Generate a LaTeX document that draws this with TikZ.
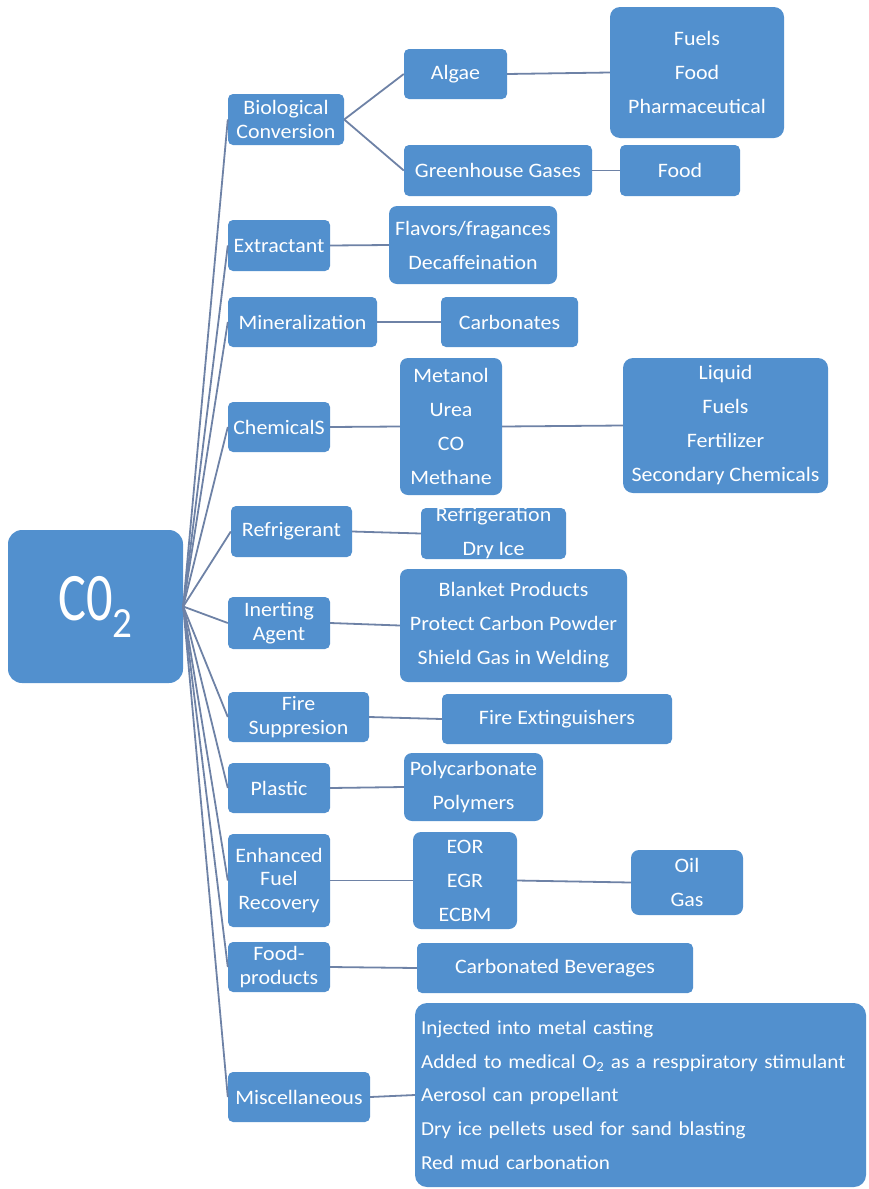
\documentclass[tikz,border=0pt]{standalone}
\usepackage{fontspec}
\setmainfont{Carlito}[FakeStretch=1.07]
\usepackage{graphicx}
\hyphenpenalty=10000
\exhyphenpenalty=10000
\definecolor{boxblue}{RGB}{82,144,206}
\definecolor{linkgray}{RGB}{110,130,166}
\tikzset{
  box/.style={rectangle, rounded corners=5pt, fill=boxblue, text=white,
    inner sep=0pt, align=center, font=\fontsize{20.5}{23.5}\selectfont},
  listbox/.style={box, rounded corners=8pt, font=\fontsize{20.5}{34}\selectfont},
  txt/.style={text=white, inner sep=0pt, align=center, font=\fontsize{20.5}{34}\selectfont},
  wh/.style 2 args={minimum width=#1pt, minimum height=#2pt},
  link/.style={draw=linkgray, line width=1.8pt},
}
\begin{document}
\begin{tikzpicture}[x=1pt,y=-1pt]
\useasboundingbox (0,0) rectangle (868,1189);

% root
\node[box, rounded corners=14pt, wh={175}{153}] (co2) at (95.5,606.5)
  {\scalebox{0.72}[1]{\fontsize{68}{68}\selectfont C0}\raisebox{-17pt}{\scalebox{0.85}[1]{\fontsize{43}{43}\selectfont 2}}};

% first level
\node[box, wh={116}{51}] (bio)     at (286,119.5) {Biological\\Conversion};
\node[box, wh={102}{51}] (extr)    at (279,245.5) {Extractant};
\node[box, wh={149}{50}] (mineral) at (302.5,322) {Mineralization};
\node[box, wh={102}{50}] (chem)    at (279,427)   {ChemicalS};
\node[box, wh={121}{51}] (refrig)  at (291.5,531.5) {Refrigerant};
\node[box, wh={102}{52}] (inert)   at (279,623)   {Inerting\\Agent};
\node[box, wh={141}{50}] (fire)    at (298.5,717) {Fire\\Suppresion};
\node[box, wh={102}{50}] (plastic) at (279,788)   {Plastic};
\node[box, wh={102}{93}] (efr)     at (279,880.5) {Enhanced\\Fuel\\Recovery};
\node[box, wh={102}{50}] (foodp)   at (279,967)   {Food-\\products};
\node[box, wh={142}{50}] (misc)    at (299,1097)  {Miscellaneous};

% second level
\node[box, wh={103}{50}] (algae)   at (455.5,74)  {Algae};
\node[box, wh={188}{51}] (ghg)     at (498,170.5) {Greenhouse Gases};
\node[listbox, wh={168}{78}] (flav) at (473,245)  {Flavors/fragances\\Decaffeination};
\node[box, wh={137}{50}] (carb)    at (509.5,322) {Carbonates};
\node[listbox, wh={102}{137}] (metanol) at (451,426.5) {Metanol\\Urea\\CO\\Methane};
\node[box, wh={145}{51}] (refrigb) at (493.5,533.5) {};
\node[txt] at (refrigb) {Refrigeration\\Dry Ice};
\node[listbox, wh={227}{113}] (blanket) at (513.5,625.5)
  {Blanket Products\\Protect Carbon Powder\\Shield Gas in Welding};
\node[box, wh={230}{50}] (fireext) at (557,719)   {Fire Extinguishers};
\node[listbox, wh={139}{68}] (poly) at (473.5,787) {Polycarbonate\\Polymers};
\node[listbox, wh={104}{97}] (eor)  at (465,880.5) {EOR\\EGR\\ECBM};
\node[box, wh={276}{50}] (carbbev) at (555,968)   {Carbonated Beverages};
\node[listbox, rounded corners=12pt, wh={451}{184}, align=left,
      text width=439pt, inner xsep=6pt,
      font=\fontsize{19.8}{33.7}\selectfont] (misclist) at (640.5,1095)
  {Injected into metal casting\\
   Added to medical O\textsubscript{2} as a resppiratory stimulant\\
   Aerosol can propellant\\
   Dry ice pellets used for sand blasting\\
   Red mud carbonation};

% third level
\node[listbox, rounded corners=10pt, wh={174}{131}] (fuels) at (697,72.5)
  {Fuels\\Food\\Pharmaceutical};
\node[box, wh={120}{51}] (food)    at (680,170.5) {Food};
\node[listbox, rounded corners=10pt, wh={205}{135}] (liquid) at (725.5,425.5)
  {Liquid\\Fuels\\Fertilizer\\Secondary Chemicals};
\node[listbox, wh={112}{65}] (oil) at (687,882.5) {Oil\\Gas};

% fan from the root
\foreach \n in {bio,extr,mineral,chem,refrig,inert,fire,plastic,efr,foodp,misc}
  \draw[link] (co2.east) -- (\n.west);

% branches
\draw[link] (bio.east) -- (algae.west);
\draw[link] (bio.east) -- (ghg.west);
\draw[link] (algae.east) -- (fuels.west);
\draw[link] (ghg.east) -- (food.west);
\draw[link] (extr.east) -- (flav.west);
\draw[link] (mineral.east) -- (carb.west);
\draw[link] (chem.east) -- (metanol.west);
\draw[link] (metanol.east) -- (liquid.west);
\draw[link] (refrig.east) -- (refrigb.west);
\draw[link] (inert.east) -- (blanket.west);
\draw[link] (fire.east) -- (fireext.west);
\draw[link] (plastic.east) -- (poly.west);
\draw[link] (efr.east) -- (eor.west);
\draw[link] (eor.east) -- (oil.west);
\draw[link] (foodp.east) -- (carbbev.west);
\draw[link] (misc.east) -- (misclist.west);
\end{tikzpicture}
\end{document}
